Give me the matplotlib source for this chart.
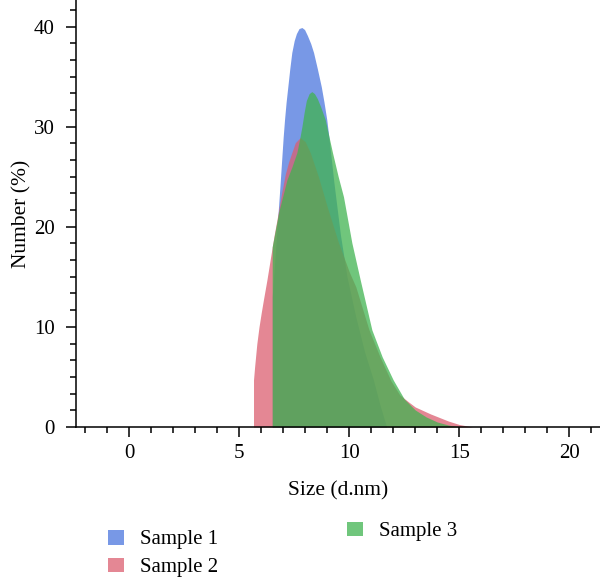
import numpy as np
import matplotlib
matplotlib.use("Agg")
import matplotlib.pyplot as plt
from matplotlib.ticker import MultipleLocator, AutoMinorLocator

plt.rcParams['font.family'] = ['Liberation Serif', 'DejaVu Serif']

# Sample 1 (blue)
size_1 = [6.5, 6.5, 6.74, 6.85, 6.94, 7.0, 7.06, 7.13, 7.21, 7.3, 7.39, 7.5,
          7.6, 7.72, 7.85, 7.97, 8.1, 8.25, 8.38, 8.55, 8.73, 8.85, 8.98, 9.1,
          9.3, 9.6, 9.9, 10.3, 10.7, 11.1, 11.4, 11.7]
num_1 = [0, 13, 20.5, 24.0, 27.0, 29.0, 30.7, 32.4, 34.0, 35.8, 37.4, 38.6,
         39.3, 39.8, 39.9, 39.7, 39.1, 38.3, 37.4, 35.8, 34.0, 32.5, 30.7, 28.5,
         24.5, 19.2, 15.0, 11.0, 7.5, 4.7, 2.2, 0]

# Sample 2 (red)
size_2 = [5.65, 5.65, 5.7, 5.8, 5.9, 6.0, 6.1, 6.26, 6.48, 6.6, 6.74, 6.94,
          7.1, 7.25, 7.39, 7.55, 7.77, 8.0, 8.23, 8.4, 8.6, 9.0, 9.5, 10.0,
          10.3, 10.9, 11.4, 11.9, 12.3, 12.7, 13.0, 13.7, 14.5, 15.0, 15.6]
num_2 = [0, 4.7, 6.0, 8.3, 10.0, 11.4, 12.7, 14.7, 17.7, 19.3, 21.0, 23.5,
         25.3, 26.5, 27.4, 28.4, 28.9, 28.5, 27.4, 26.3, 25.0, 22.0, 18.5, 15.5,
         14.0, 9.7, 7.0, 4.6, 3.2, 2.5, 2.0, 1.3, 0.6, 0.25, 0]

# Sample 3 (green)
size_3 = [6.5, 6.5, 6.8, 7.17, 7.4, 7.62, 7.75, 7.85, 7.95, 8.05, 8.18, 8.3,
          8.42, 8.55, 8.7, 8.91, 9.24, 9.5, 9.74, 10.12, 10.5, 11.03, 11.5,
          12.0, 12.5, 13.0, 13.5, 14.0, 14.5, 15.0]
num_3 = [0, 18, 21.5, 24.7, 26.0, 27.4, 28.8, 30.0, 31.4, 32.6, 33.3, 33.5,
         33.3, 32.8, 32.0, 30.7, 27.4, 25.0, 23.0, 18.4, 14.7, 9.7, 7.0,
         4.7, 2.8, 1.7, 1.0, 0.5, 0.2, 0]

labels = ['Sample 1', 'Sample 2', 'Sample 3']
colors = ['#4b76de', '#db5f70', '#40b350']

fig = plt.figure(figsize=(6, 5.77), dpi=100)
ax = fig.add_axes([0.127, 0.26, 0.873, 0.74])

h1 = ax.fill_between(size_1, num_1, color=colors[0], alpha=0.75, lw=0, label=labels[0])
h2 = ax.fill_between(size_2, num_2, color=colors[1], alpha=0.75, lw=0, label=labels[1])
h3 = ax.fill_between(size_3, num_3, color=colors[2], alpha=0.75, lw=0, label=labels[2])

ax.set_xlim(-2.41, 21.4)
ax.set_ylim(0, 42.65)
ax.xaxis.set_major_locator(MultipleLocator(5))
ax.xaxis.set_minor_locator(MultipleLocator(1))
ax.yaxis.set_major_locator(MultipleLocator(10))
ax.yaxis.set_minor_locator(AutoMinorLocator(6))

for s in ['top', 'right']:
    ax.spines[s].set_visible(False)
for s in ['left', 'bottom']:
    ax.spines[s].set_linewidth(1.1)
ax.tick_params(which='major', length=7.5, width=1.1, labelsize=15, pad=5)
ax.tick_params(which='minor', length=4.5, width=1.1)
ax.tick_params(axis='y', which='major', pad=8)

ax.set_xlabel('Size (d.nm)', fontsize=15.5, labelpad=13)
ax.set_ylabel('Number (%)', fontsize=15.5, labelpad=2)

leg_kw = dict(frameon=False, fontsize=15, borderpad=0, borderaxespad=0,
              handlelength=0.77, handleheight=0.72, handletextpad=0.77,
              labelspacing=0.39, loc='upper left')
fig.legend([h1, h2], labels[:2], bbox_to_anchor=(0.18, 0.082), **leg_kw)
fig.legend([h3], labels[2:], bbox_to_anchor=(0.578, 0.096), **leg_kw)

fig.savefig('out.png', dpi=100)
